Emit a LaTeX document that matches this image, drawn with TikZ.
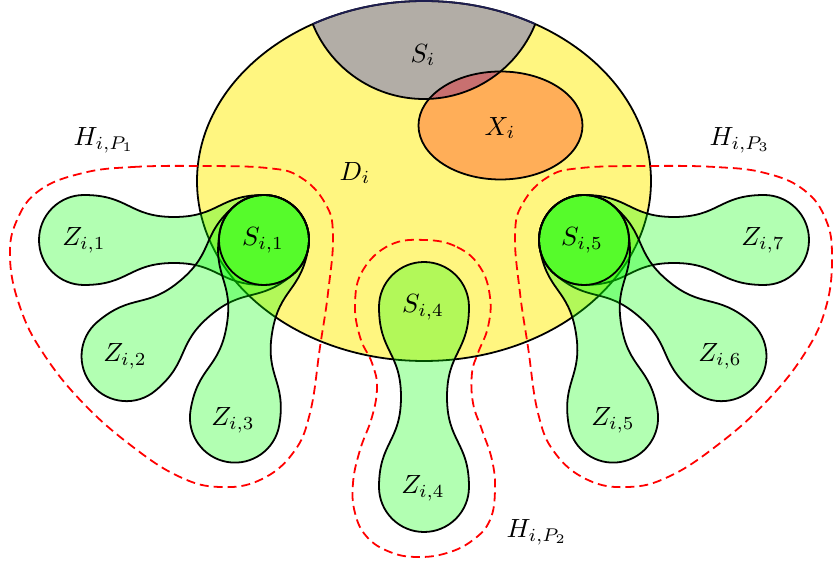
\documentclass[tikz,border=0pt]{standalone}
\definecolor{dfill}{RGB}{255,246,128}
\definecolor{sfill}{RGB}{178,173,166}
\definecolor{xfill}{RGB}{255,174,88}
\definecolor{ofill}{RGB}{200,112,112}
\definecolor{navyline}{RGB}{30,30,80}
\newcommand{\zlobe}[2]{%
  \begin{scope}[shift={#1},rotate=#2]
    \draw[lobestyle] (0,-45) arc[start angle=-90,end angle=-270,radius=45]
      .. controls (45,45) and (45,23) .. (90,23)
      .. controls (135,23) and (135,45) .. (180,45)
      arc[start angle=90,end angle=-90,radius=45]
      .. controls (135,-45) and (135,-23) .. (90,-23)
      .. controls (45,-23) and (45,-45) .. (0,-45) -- cycle;
  \end{scope}}
\begin{document}
\begin{tikzpicture}[x=0.38pt,y=-0.38pt,line width=0.68pt,
  lobestyle/.style={draw=black,fill=green,fill opacity=0.3},
  hull/.style={draw=red,dash pattern=on 3.4pt off 1.9pt,line width=0.68pt},
  lbl/.style={inner sep=0pt}]
\useasboundingbox (0,0) rectangle (835,563);
% D_i
\path[fill=dfill] (424,181) ellipse[x radius=227,y radius=180];
\begin{scope}
  \clip (424,181) ellipse[x radius=227,y radius=180];
  \fill[sfill] (424,-21) circle[radius=120];
\end{scope}
\fill[xfill] (500.5,125.5) ellipse[x radius=82,y radius=54];
\begin{scope}
  \clip (424,-21) circle[radius=120];
  \fill[ofill] (500.5,125.5) ellipse[x radius=82,y radius=54];
\end{scope}
\draw (424,181) ellipse[x radius=227,y radius=180];
\begin{scope}
  \clip (424,-21) circle[radius=120];
  \draw[navyline] (424,181) ellipse[x radius=227,y radius=180];
\end{scope}
\begin{scope}
  \clip (424,181) ellipse[x radius=227,y radius=180];
  \draw (424,-21) circle[radius=120];
\end{scope}
\draw (500.5,125.5) ellipse[x radius=82,y radius=54];
% lobes
\zlobe{(264,240)}{180}
\zlobe{(264,240)}{220.2}
\zlobe{(264,240)}{260.7}
\zlobe{(424,307)}{270}
\zlobe{(584,240)}{0}
\zlobe{(584,240)}{319.8}
\zlobe{(584,240)}{279.3}
\draw (264,240) circle[radius=45];
\draw (584,240) circle[radius=45];
% hulls
\draw[hull] plot[smooth cycle,tension=0.7] coordinates {
  (83,173) (133,167) (200,166) (267,168) (300,177) (325,203) (333,235)
  (328,293) (320,347) (310,413) (293,453) (260,480) (220,487) (180,477)
  (133,447) (83,403) (43,353) (20,307) (10,258) (17,220) (40,190)};
\draw[hull] plot[smooth cycle,tension=0.7] coordinates {
  (765,173) (715,167) (648,166) (581,168) (548,177) (523,203) (515,235)
  (520,293) (528,347) (538,413) (555,453) (588,480) (628,487) (668,477)
  (715,447) (765,403) (805,353) (826,307) (832,258) (826,220) (804,190)};
\draw[hull] plot[smooth cycle,tension=0.7] coordinates {
  (425,240) (457,247) (480,267) (490,297) (488,327) (478,353) (472,373)
  (473,403) (482,430) (492,460) (495,490) (490,520) (473,540) (447,553)
  (417,557) (390,552) (367,537) (355,513) (353,483) (360,450) (372,417)
  (377,387) (372,363) (360,337) (355,303) (363,270) (390,245)};
% labels
\node[lbl] (lSi) at (423,55) {$S_i$};
\node[lbl] (lXi) at (500,128) {$X_i$};
\node[lbl] (lDi) at (355,173) {$D_i$};
\node[lbl] (lH1) at (104,140) {$H_{i,P_1}$};
\node[lbl] (lH3) at (740,140) {$H_{i,P_3}$};
\node[lbl] (lH2) at (537,532) {$H_{i,P_2}$};
\node[lbl] (lS1) at (263,240) {$S_{i,1}$};
\node[lbl] (lS4) at (423,307) {$S_{i,4}$};
\node[lbl] (lS5) at (582,240) {$S_{i,5}$};
\node[lbl] (lZ1) at (84,240) {$Z_{i,1}$};
\node[lbl] (lZ2) at (125,356) {$Z_{i,2}$};
\node[lbl] (lZ3) at (233,420) {$Z_{i,3}$};
\node[lbl] (lZ4) at (423,488) {$Z_{i,4}$};
\node[lbl] (lZ5) at (613,420) {$Z_{i,5}$};
\node[lbl] (lZ6) at (720,356) {$Z_{i,6}$};
\node[lbl] (lZ7) at (763,240) {$Z_{i,7}$};
\end{tikzpicture}
\end{document}
